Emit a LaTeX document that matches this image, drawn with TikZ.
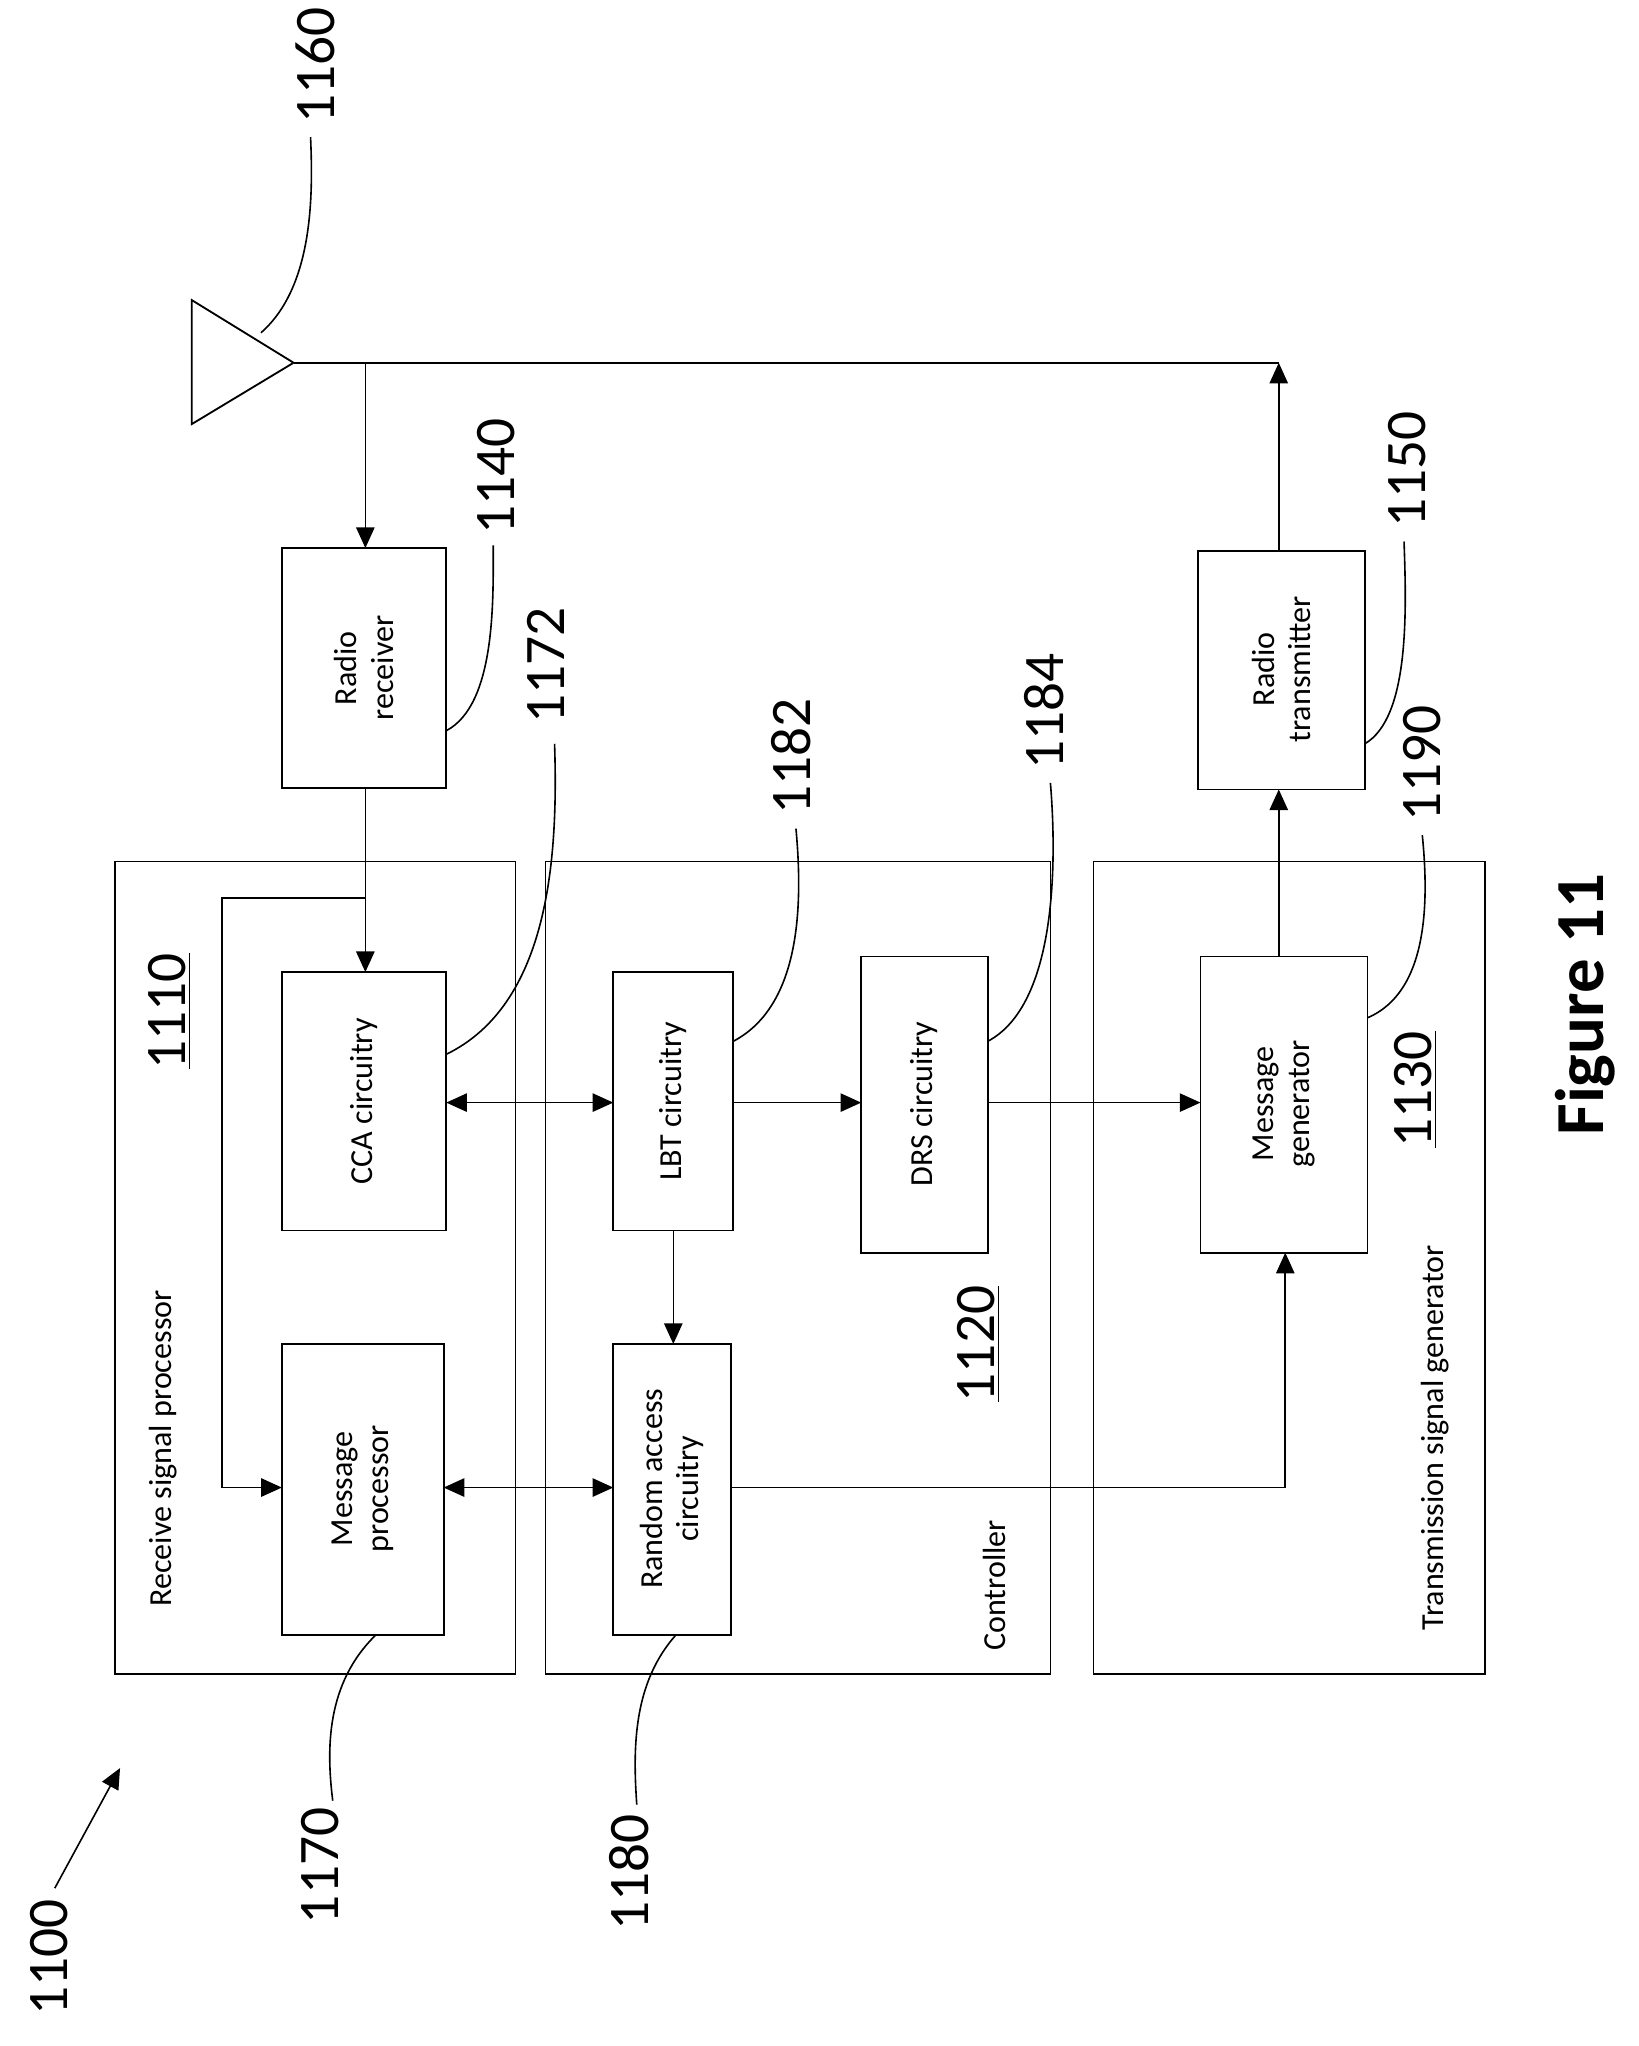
\documentclass[tikz,border=0pt]{standalone}
\usepackage{fontspec}
\setmainfont{Carlito}
\usetikzlibrary{arrows.meta}
\begin{document}
\begin{tikzpicture}[x=0.02cm,y=-0.02cm,
  blk/.style={draw,line width=0.8pt},
  grp/.style={draw,line width=0.6pt},
  txt/.style={rotate=90,align=center,font=\fontsize{14}{16}\selectfont},
  num/.style={rotate=90,font=\fontsize{25}{28}\selectfont},
  arr/.style={-{Triangle[length=9pt,width=8pt]},line width=0.7pt},
  darr/.style={{Triangle[length=9pt,width=8pt]}-{Triangle[length=9pt,width=8pt]},line width=0.7pt},
  lead/.style={line width=0.7pt}]
\useasboundingbox (0,0) rectangle (1256,1568);
% groups
\draw[grp] (88,660) rectangle (395,1283);
\draw[grp] (418,660) rectangle (805,1283);
\draw[grp] (838,660) rectangle (1138,1283);
\node[txt] (lrsp) at (125,1110) {Receive signal processor};
\node[txt] (lctl) at (762,1215) {Controller};
\node[txt] (ltsg) at (1100,1102) {Transmission signal generator};
\node[num] (n1110) at (130,775) {\underline{1110}};
\node[num] (n1120) at (750,1030) {\underline{1120}};
\node[num] (n1130) at (1085,835) {\underline{1130}};
% blocks
\draw[blk] (216,420) rectangle (342,604); \coordinate (rrT) at (280,420); \coordinate (rrB) at (280,604);
\node[txt] (trr) at (279,512) {Radio\\receiver};
\draw[blk] (918,422) rectangle (1046,605);
\node[txt] (trt) at (982,513) {Radio\\transmitter};
\coordinate (rtT) at (980,422); \coordinate (rtB) at (980,605);
\draw[blk] (216,745) rectangle (342,943);
\node[txt] (cca) at (279,844) {CCA circuitry};
\draw[blk] (216,1030) rectangle (340,1253);
\node[txt] (mp) at (278,1141) {Message\\processor};
\draw[blk] (470,745) rectangle (562,943);
\node[txt] (lbt) at (516,844) {LBT circuitry};
\draw[blk] (470,1030) rectangle (560,1253);
\node[txt] (ra) at (515,1141) {Random access\\circuitry};
\draw[blk] (660,733) rectangle (757,960);
\node[txt] (drs) at (708,846) {DRS circuitry};
\draw[blk] (920,733) rectangle (1048,960);
\node[txt] (mg) at (984,846) {Message\\generator};
% antenna
\draw[line width=0.8pt] (147,230) -- (147,325) -- (225,278) -- cycle;
\coordinate (ant) at (225,278);
\coordinate (j1) at (280,278);
\coordinate (j2) at (980,278);
\draw[line width=0.7pt] (ant) -- (j2);
\draw[arr] (j1) -- (rrT);
\draw[arr] (rtT) -- (j2);
\draw[arr] (rrB) -- (280,745);
\draw[arr] (280,688) -- (170,688) -- (170,1140) -- (216,1140);
\draw[darr] (342,845) -- (470,845);
\draw[arr] (562,845) -- (660,845);
\draw[arr] (757,845) -- (920,845);
\draw[arr] (516,943) -- (516,1030);
\draw[darr] (340,1140) -- (470,1140);
\draw[arr] (560,1140) -- (985,1140) -- (985,960);
\draw[arr] (980,733) -- (rtB);
% labels
\node[num] (n1160) at (242,50) {1160};
\draw[lead] (200,255) .. controls (240,220) and (240,150) .. (238,105);
\node[num] (n1140) at (380,365) {1140};
\draw[lead] (342,560) .. controls (380,540) and (378,460) .. (378,418);
\node[num] (n1172) at (418,510) {1172};
\draw[lead] (342,808) .. controls (420,770) and (428,660) .. (425,570);
\node[num] (n1182) at (606,580) {1182};
\draw[lead] (562,798) .. controls (615,770) and (615,690) .. (610,635);
\node[num] (n1184) at (800,545) {1184};
\draw[lead] (757,798) .. controls (810,770) and (810,660) .. (805,600);
\node[num] (n1150) at (1078,360) {1150};
\draw[lead] (1046,570) .. controls (1080,550) and (1078,470) .. (1076,415);
\node[num] (n1190) at (1090,585) {1190};
\draw[lead] (1048,780) .. controls (1095,760) and (1095,690) .. (1090,640);
\node[num] (n1170) at (245,1430) {1170};
\draw[lead] (288,1253) .. controls (250,1290) and (250,1340) .. (255,1380);
\node[num] (n1180) at (482,1435) {1180};
\draw[lead] (518,1253) .. controls (485,1290) and (485,1340) .. (488,1383);
\node[num] (n1100) at (38,1500) {1100};
\coordinate (a1) at (42,1447); \coordinate (a2) at (92,1355);
\draw[arr] (a1) -- (a2);
\node[rotate=90,font=\bfseries\fontsize{30}{34}\selectfont] (fig) at (1215,770) {Figure 11};
\end{tikzpicture}
\end{document}
